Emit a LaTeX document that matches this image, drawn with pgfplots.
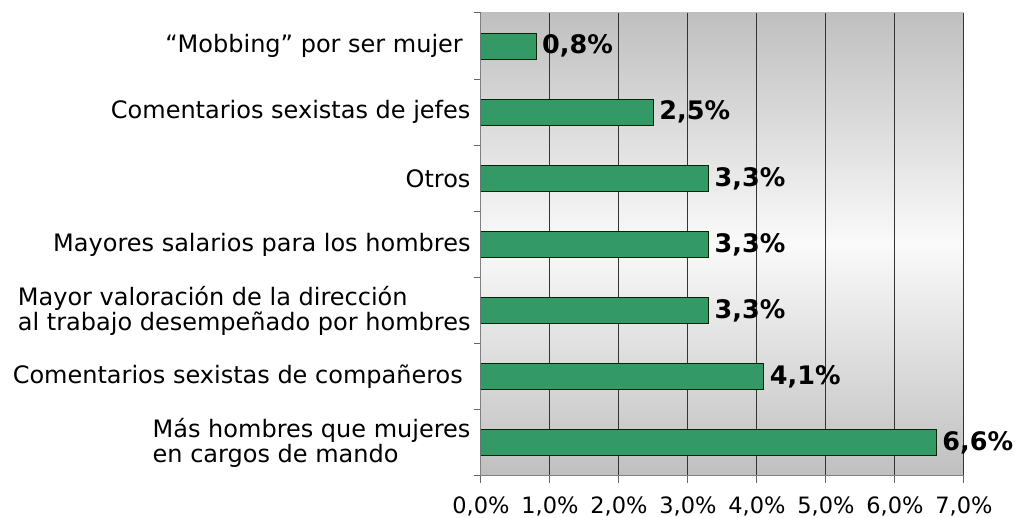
\documentclass[border=0pt]{standalone}
\usepackage{pgfplots}
\pgfplotsset{compat=1.18}
\usepackage{fontspec}
\setmainfont{DejaVu Sans}
\definecolor{barg}{HTML}{339966}
\begin{document}
\begin{tikzpicture}
\begin{axis}[
  set layers,
  at={(0pt,0pt)}, anchor=south west,
  scale only axis, width=483pt, height=463pt,
  xbar, bar width=26pt,
  xmin=0, xmax=7, ymin=-0.5, ymax=6.5,
  axis x line*=bottom, axis y line*=left,
  axis line style={-, draw=black!50, line width=1pt},
  tick align=outside,
  xtick={0,...,7},
  xticklabel={\pgfmathprintnumber[fixed,fixed zerofill,precision=1,use comma]{\tick}\%},
  /pgf/number format/assume math mode=true,
  ytick={0,...,6},
  yticklabels={{Más hombres que mujeres\\en cargos de mando},
               {Comentarios sexistas de compañeros\ },
               {Mayor valoración de la dirección\\al trabajo desempeñado por hombres},
               {Mayores salarios para los hombres},
               {Otros},
               {Comentarios sexistas de jefes},
               {“Mobbing” por ser mujer\ }},
  yticklabel style={align=left, font=\fontsize{24}{25}\selectfont},
  xticklabel style={font=\fontsize{22.5}{24}\selectfont, yshift=-10pt},
  minor ytick={-0.5,0.5,...,6.5},
  every major y tick/.append style={draw=none},
  major tick length=7pt, minor tick length=7pt,
  every tick/.append style={black!60, line width=1pt},
  xmajorgrids,
  major grid style={black!80, line width=1pt},
  nodes near coords={\pgfmathprintnumber[fixed,fixed zerofill,precision=1,use comma]{\pgfplotspointmeta}\%},
  point meta=x,
  nodes near coords style={font=\fontsize{25.5}{27}\selectfont\bfseries, anchor=west, inner sep=5.5pt},
]
\begin{pgfonlayer}{axis background}
\path[top color=black!25, bottom color=black!25, middle color=black!2]
  (rel axis cs:0,0) rectangle (rel axis cs:1,1);
\end{pgfonlayer}
\addplot[fill=barg, draw=black!85!green, line width=1pt] coordinates {
  (6.6,0) (4.1,1) (3.3,2) (3.3,3) (3.3,4) (2.5,5) (0.8,6)
};
\end{axis}
\pgfresetboundingbox
\useasboundingbox (-481pt,-42pt) rectangle (534pt,476pt);
\end{tikzpicture}
\end{document}
